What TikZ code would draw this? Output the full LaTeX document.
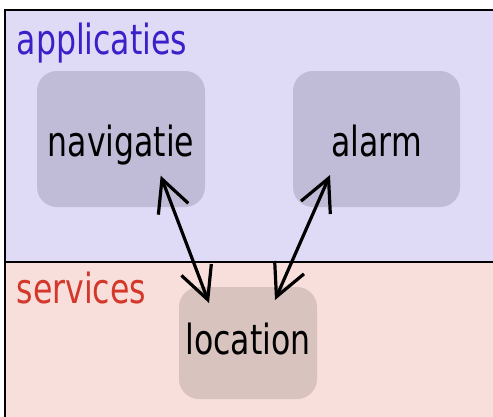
\documentclass[tikz,border=0pt]{standalone}
\usepackage{fontspec}
\setmainfont{DejaVu Sans}[FakeStretch=0.76]
\usetikzlibrary{arrows.meta,calc}
\definecolor{appbg}{HTML}{DFDBF7}
\definecolor{appbox}{HTML}{C0BCD7}
\definecolor{srvbg}{HTML}{F9DFDB}
\definecolor{srvbox}{HTML}{D8C3BE}
\definecolor{apptxt}{HTML}{3B1FC9}
\definecolor{srvtxt}{HTML}{D4382A}
\begin{document}
\begin{tikzpicture}[x=1pt,y=-1pt,
  lbl/.style={font=\fontsize{41.5}{49}\selectfont, inner sep=0pt},
  layerlbl/.style={lbl, anchor=base west},
  compbox/.style={lbl, rounded corners=20pt, minimum width=168pt, minimum height=136pt, text height=40pt, text depth=6pt},
  dbl/.style={{Straight Barb[length=32pt,width=32pt]}-{Straight Barb[length=32pt,width=32pt]}, line width=3.2pt}]
\useasboundingbox (0,0) rectangle (493,416);
\fill[appbg] (5.3,9.7) rectangle (500,261.5);
\fill[srvbg] (5.3,261.5) rectangle (500,420);
\draw[line width=2.2pt] (500,9.7) -- (5.3,9.7) -- (5.3,420);
\draw[line width=2pt] (5.3,261.5) -- (500,261.5);
\node[layerlbl, text=apptxt] (apptitle) at (16.5,54) {applicaties};
\node[layerlbl, text=srvtxt] (srvtitle) at (16.5,303) {services};
\node[compbox, fill=appbox] (nav) at (121,139) {navigatie};
\node[compbox, fill=appbox, minimum width=167pt] (alarm) at (376.5,139) {alarm};
\node[compbox, fill=srvbox, minimum width=138pt, minimum height=112pt, text height=30pt, text depth=8pt] (loc) at (248,343) {location};
\draw[dbl] ($(nav.center)+(39.7,36.7)$) -- ($(loc.center)+(-39,-40)$);
\draw[dbl] ($(alarm.center)+(-46.5,36)$) -- ($(loc.center)+(27,-43)$);
\end{tikzpicture}
\end{document}
